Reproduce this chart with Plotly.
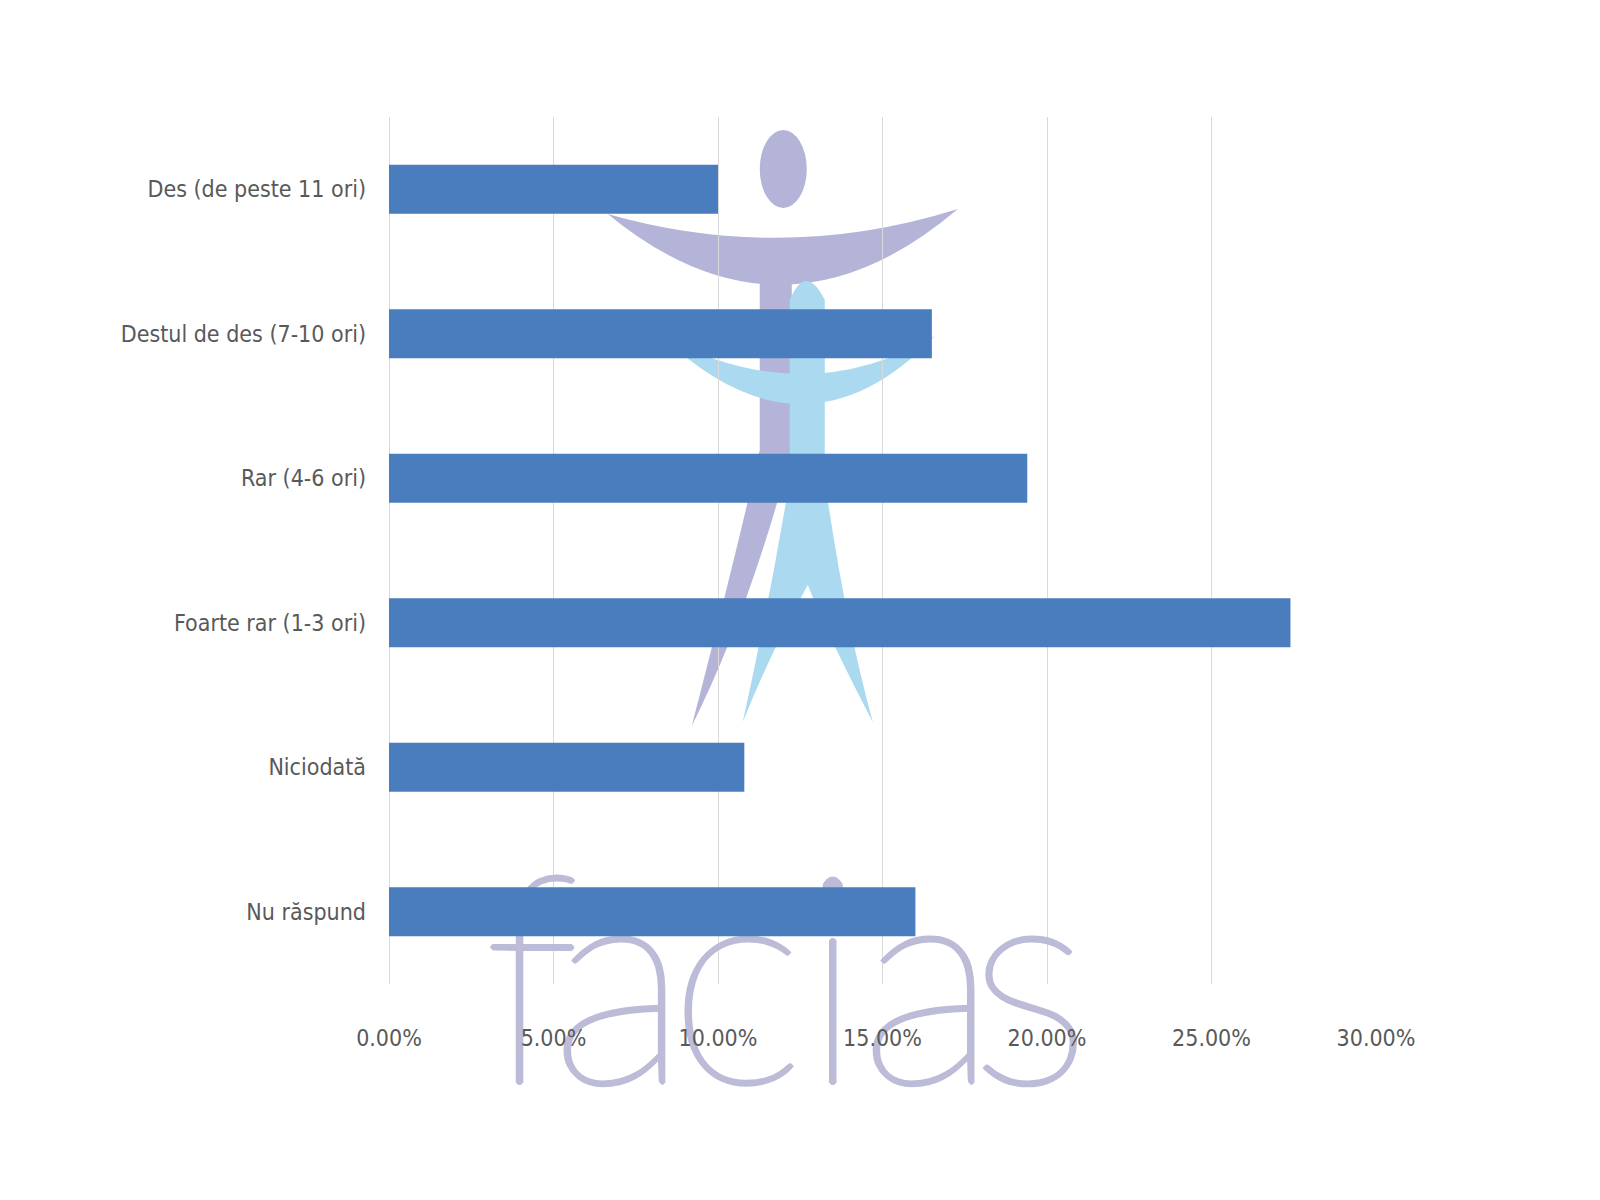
import plotly.graph_objects as go

# ---- data ----
categories = [
    "Des (de peste 11 ori)",
    "Destul de des (7-10 ori)",
    "Rar (4-6 ori)",
    "Foarte rar (1-3 ori)",
    "Niciodată",
    "Nu răspund",
]
values = [0.100, 0.165, 0.194, 0.274, 0.108, 0.160]
x_ticks = [0.0, 0.05, 0.10, 0.15, 0.20, 0.25, 0.30]
watermark_letters = ["f", "a", "c", "i", "a", "s"]

# ---- layout geometry (pixels) ----
W, H = 1600, 1200
PL, PR, PT, PB = 389.4, 1376.0, 117.0, 984.0


def px(x):
    return (x - PL) / (PR - PL)


def py(y):
    return (PB - y) / (PB - PT)


def path(cmds):
    out = []
    for c in cmds:
        if c == "Z":
            out.append("Z")
        else:
            letter, pts = c[0], c[1:]
            s = letter + " " + " ".join(f"{px(a):.5f},{py(b):.5f}" for a, b in pts)
            out.append(s)
    return " ".join(out)


TEXT = "#595959"
FONT = "Liberation Sans Narrow, DejaVu Sans Condensed, Arial Narrow, sans-serif"
PURPLE = "#b4b4d8"
LBLUE = "#abdaf0"
WM_COLOR = "#bcbcd8"
WM_SIZE = 292
WM_BASELINE = 1083

fig = go.Figure()

# watermark word (base subplot, drawn beneath the bars)
letter_x = [532, 620, 737, 833, 929, 1030]
shadow = ", ".join(f"{dx}px {dy}px 0 {WM_COLOR}" for dx, dy in
                   [(2, 0), (-2, 0), (0, 2), (0, -2), (1, 1), (-1, -1), (1, -1), (-1, 1)])
fig.add_trace(
    go.Scatter(
        x=letter_x,
        y=[WM_BASELINE - 0.75 * WM_SIZE] * len(letter_x),
        mode="text",
        text=watermark_letters,
        textposition="bottom center",
        textfont=dict(family="Lato, Roboto, sans-serif", size=WM_SIZE,
                      color=WM_COLOR, weight=200, shadow=shadow),
        cliponaxis=False,
        hoverinfo="skip",
        xaxis="x", yaxis="y",
    )
)

# data bars (overlay subplot)
fig.add_trace(
    go.Bar(
        y=categories,
        x=values,
        orientation="h",
        marker=dict(color="#4a7dbd", line=dict(width=0)),
        hoverinfo="x+y",
        xaxis="x2", yaxis="y2",
    )
)

shapes = [
    # head
    dict(type="circle", xref="paper", yref="paper",
         x0=px(760), x1=px(807), y0=py(208), y1=py(130),
         fillcolor=PURPLE, line=dict(width=0), layer="below"),
    # purple arms (crescent)
    dict(type="path", xref="paper", yref="paper",
         path=path([("M", (608, 214)), ("Q", (783, 264), (958, 209)),
                    ("Q", (783, 358), (608, 214)), "Z"]),
         fillcolor=PURPLE, line=dict(width=0), layer="below"),
    # purple body + leg
    dict(type="path", xref="paper", yref="paper",
         path=path([("M", (760, 260)), ("L", (792, 260)), ("L", (792, 450)),
                    ("Q", (750, 610), (692, 726)), ("Q", (735, 560), (760, 450)), "Z"]),
         fillcolor=PURPLE, line=dict(width=0), layer="below"),
    # light blue arms
    dict(type="path", xref="paper", yref="paper",
         path=path([("M", (662, 336)), ("Q", (805, 412), (935, 336)),
                    ("Q", (805, 472), (662, 336)), "Z"]),
         fillcolor=LBLUE, line=dict(width=0), layer="below"),
    # light blue body + legs
    dict(type="path", xref="paper", yref="paper",
         path=path([("M", (790, 300)), ("Q", (806, 262), (825, 300)), ("L", (825, 480)),
                    ("Q", (845, 620), (873, 722)), ("Q", (830, 640), (808, 585)),
                    ("Q", (772, 650), (743, 722)), ("Q", (770, 600), (790, 480)), "Z"]),
         fillcolor=LBLUE, line=dict(width=0), layer="below"),
]

fig.update_layout(
    width=W, height=H,
    margin=dict(l=PL, r=W - PR, t=PT, b=H - PB, pad=0),
    paper_bgcolor="white",
    plot_bgcolor="rgba(0,0,0,0)",
    bargap=0.66,
    showlegend=False,
    shapes=shapes,
    font=dict(family=FONT, color=TEXT, size=23),
    xaxis=dict(range=[PL, PR], visible=False, fixedrange=True),
    yaxis=dict(range=[PB, PT], visible=False, fixedrange=True),
    xaxis2=dict(
        overlaying="x", anchor="y2", side="bottom",
        range=[0, 0.30], tickvals=x_ticks, tickformat=".2%",
        showgrid=True, gridcolor="#d9d9d9", gridwidth=1,
        zeroline=True, zerolinecolor="#d9d9d9", zerolinewidth=1,
        showline=False, ticks="", ticklabelstandoff=38,
        tickfont=dict(family=FONT, color=TEXT, size=23),
    ),
    yaxis2=dict(
        overlaying="y", anchor="x2", side="left",
        categoryorder="array", categoryarray=categories, autorange="reversed",
        showgrid=False, showline=False, ticks="", ticklabelstandoff=22,
        tickfont=dict(family=FONT, color=TEXT, size=23),
    ),
)

fig.write_html("out.html", include_plotlyjs=True,
               config={"displayModeBar": False},
               post_script="document.body.style.margin='0px';")
